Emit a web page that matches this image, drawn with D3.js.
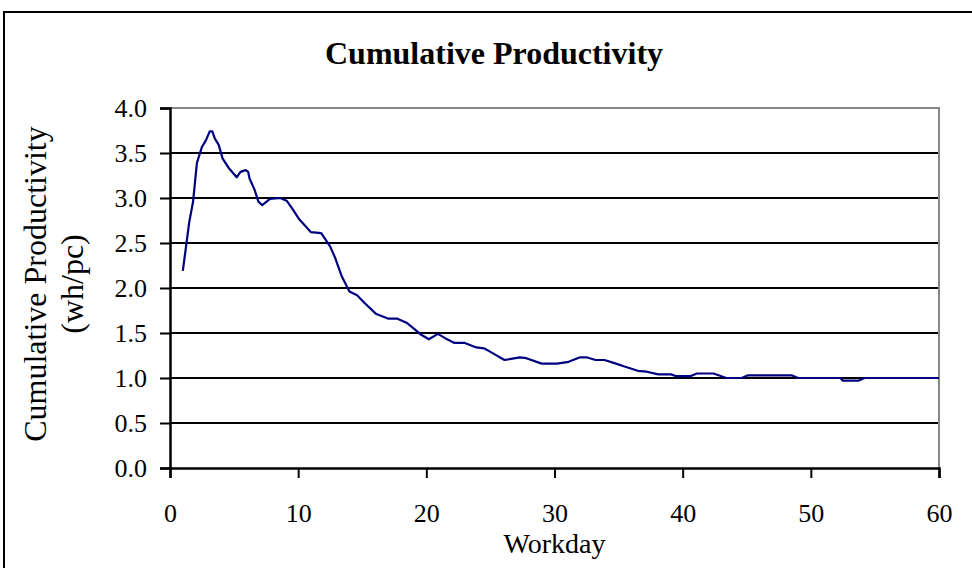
<!DOCTYPE html>
<html>
<head>
<meta charset="utf-8">
<script src="https://cdn.jsdelivr.net/npm/d3@7"></script>
<style>
  body { margin: 0; background: #fff; }
  svg text { font-family: "Liberation Serif", "Times New Roman", serif; fill: #000; }
</style>
</head>
<body>
<div id="chart"></div>
<script>
// Data

var workdays = [1, 1.5, 1.8, 2.1, 2.5, 2.8, 3.1, 3.3, 3.5, 3.8,
    4.1, 4.6, 5.2, 5.5, 5.9, 6.1, 6.2, 6.6, 6.9, 7.2,
    7.8, 8.6, 9.1, 9.5, 10.1, 11.0, 11.8, 12.5, 12.9, 13.4,
    14.0, 14.6, 15.2, 16.1, 17.0, 17.7, 18.5, 19.1, 19.6, 20.2,
    20.9, 21.5, 22.2, 23.0, 23.9, 24.5, 25.0, 26.1, 27.3, 27.8,
    29.0, 30.2, 31.1, 32.0, 32.5, 33.2, 33.9, 34.8, 35.4, 36.5,
    37.2, 38.1, 39.1, 39.5, 40.6, 41.1, 42.4, 42.8, 43.4, 44.6,
    45.1, 48.5, 49.0, 52.3, 52.5, 53.7, 54.2, 60];

var productivity = [2.19, 2.73, 2.96, 3.39, 3.57, 3.64, 3.74, 3.74, 3.66, 3.59,
    3.44, 3.33, 3.23, 3.29, 3.31, 3.29, 3.22, 3.09, 2.96, 2.92,
    2.99, 3.0, 2.97, 2.89, 2.76, 2.62, 2.61, 2.46, 2.33, 2.13,
    1.96, 1.92, 1.83, 1.71, 1.66, 1.66, 1.61, 1.54, 1.48, 1.43,
    1.49, 1.44, 1.39, 1.39, 1.34, 1.33, 1.29, 1.20, 1.23, 1.22,
    1.16, 1.16, 1.18, 1.23, 1.23, 1.20, 1.20, 1.16, 1.13, 1.08,
    1.07, 1.04, 1.04, 1.02, 1.02, 1.05, 1.05, 1.03, 1.00, 1.00,
    1.03, 1.03, 1.00, 1.00, 0.97, 0.97, 1.00, 1.00];

var xTicks = [0, 10, 20, 30, 40, 50, 60];
var yTicks = [0, 0.5, 1.0, 1.5, 2.0, 2.5, 3.0, 3.5, 4.0];

var width = 972, height = 568;

var svg = d3.select("#chart").append("svg")
    .attr("width", width)
    .attr("height", height);

// Outer frame (runs off the right and bottom edges)

svg.append("rect")
    .attr("x", 4)
    .attr("y", 12)
    .attr("width", 990)
    .attr("height", 600)
    .style("fill", "#fff")
    .style("stroke", "#000")
    .style("stroke-width", 2);

var x = d3.scaleLinear().domain([0, 60]).range([170, 939]);
var y = d3.scaleLinear().domain([0, 4]).range([468, 108]);

// Gridlines

svg.append("g")
    .selectAll("line")
    .data(yTicks.slice(1, -1))
    .enter().append("line")
    .attr("x1", x(0))
    .attr("x2", x(60))
    .attr("y1", function (d) { return y(d); })
    .attr("y2", function (d) { return y(d); })
    .style("stroke", "#000")
    .style("stroke-width", 2);

// Plot area border (grey top and right)

svg.append("path")
    .attr("d", "M" + x(0) + "," + y(4) + "H" + x(60) + "V" + y(0))
    .style("fill", "none")
    .style("stroke", "#888")
    .style("stroke-width", 2);

// Axes

var xAxis = svg.append("g")
    .attr("transform", "translate(0," + y(0) + ")")
    .call(d3.axisBottom(x).tickValues(xTicks).tickSize(10).tickPadding(26).tickFormat(d3.format("d")));

var yAxis = svg.append("g")
    .attr("transform", "translate(" + x(0) + ",0)")
    .call(d3.axisLeft(y).tickValues(yTicks).tickSize(10).tickPadding(13).tickFormat(d3.format(".1f")));

[xAxis, yAxis].forEach(function (g) {
    g.select(".domain").style("stroke", "#000").style("stroke-width", 2.5);
    g.selectAll(".tick line").style("stroke", "#000").style("stroke-width", 2);
    g.selectAll(".tick text")
        .style("font-family", "Liberation Serif, serif")
        .style("font-size", "26px")
        .style("fill", "#000");
});

// Series line

var line = d3.line()
    .x(function (d, i) { return x(workdays[i]); })
    .y(function (d) { return y(d); });

svg.append("path")
    .datum(productivity)
    .attr("d", line)
    .style("fill", "none")
    .style("stroke", "#000080")
    .style("stroke-width", 2.2)
    .style("stroke-linejoin", "round");

// Title

svg.append("text")
    .attr("x", 494)
    .attr("y", 64)
    .attr("text-anchor", "middle")
    .style("font-size", "32px")
    .style("font-weight", "bold")
    .text("Cumulative Productivity");

// Axis titles

svg.append("text")
    .attr("x", x(30))
    .attr("y", 553)
    .attr("text-anchor", "middle")
    .style("font-size", "28px")
    .text("Workday");

svg.append("text")
    .attr("transform", "translate(46,284) rotate(-90)")
    .attr("text-anchor", "middle")
    .style("font-size", "32px")
    .text("Cumulative Productivity");

svg.append("text")
    .attr("transform", "translate(83,284) rotate(-90)")
    .attr("text-anchor", "middle")
    .style("font-size", "32px")
    .text("(wh/pc)");

</script>
</body>
</html>
